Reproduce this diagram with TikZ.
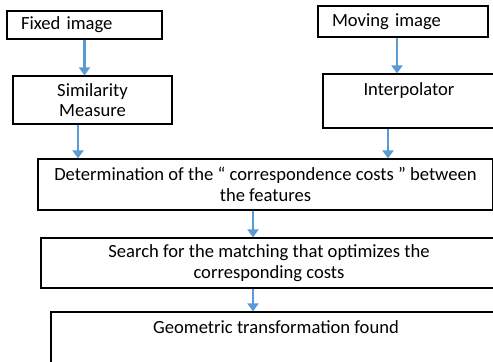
\documentclass[tikz,border=0pt]{standalone}
\usepackage{fontspec}
\setmainfont{Carlito}
\usetikzlibrary{arrows.meta}
\definecolor{flowblue}{RGB}{91,155,213}
\tikzset{
  box/.style={draw, line width=0.6pt, inner sep=0pt, align=center,
    font=\fontsize{9.3}{10.3}\selectfont},
  leftbox/.style={box, align=left, inner xsep=7pt},
  topbox/.style={box, label={[anchor=north, yshift=-1pt,
    font=\fontsize{9.3}{10.3}\selectfont]north:#1}},
  flow/.style={flowblue, line width=1.4pt, -{Triangle[width=5.5pt,length=4pt]}}
}
\begin{document}
\begin{tikzpicture}[x=0.5pt,y=-0.5pt]
\useasboundingbox (0,0) rectangle (493,362);
\clip (0,0) rectangle (493,362);
% inputs
\node[leftbox, text width=63.5pt, minimum height=14pt] (fixed) at (84.5,25) {Fixed image};
\node[leftbox, text width=71pt, minimum height=15.5pt] (moving) at (403,21.5) {Moving image};
% middle stage
\node[box, minimum width=79.5pt, minimum height=24pt] (simil) at (92.5,100) {Similarity\\Measure};
\node[topbox=Interpolator, minimum width=86pt, minimum height=27pt] (interp) at (409,101) {};
% lower chain
\node[box, minimum width=227.5pt, minimum height=25.5pt] (det) at (265.5,184.5)
  {Determination of the `` correspondence costs '' between\\the features};
\node[box, minimum width=228pt, minimum height=25pt] (search) at (269,263)
  {Search for the matching that optimizes the\\corresponding costs};
\node[topbox=Geometric transformation found, minimum width=225pt, minimum height=30pt] (geo) at (276,342) {};
% arrows
\draw[flow] (fixed.south) -- (fixed.south |- simil.north);
\draw[flow] ([xshift=-3pt]moving.south) -- ([xshift=-3pt]moving.south |- interp.north);
\draw[flow] ([xshift=-7.25pt]simil.south) -- ([xshift=-7.25pt]simil.south |- det.north);
\draw[flow] ([xshift=-10.5pt]interp.south) -- ([xshift=-10.5pt]interp.south |- det.north);
\draw[flow] ([xshift=-6.25pt]det.south) -- ([xshift=-6.25pt]det.south |- search.north);
\draw[flow] ([xshift=-8pt]search.south) -- ([xshift=-8pt]search.south |- geo.north);
\end{tikzpicture}
\end{document}
